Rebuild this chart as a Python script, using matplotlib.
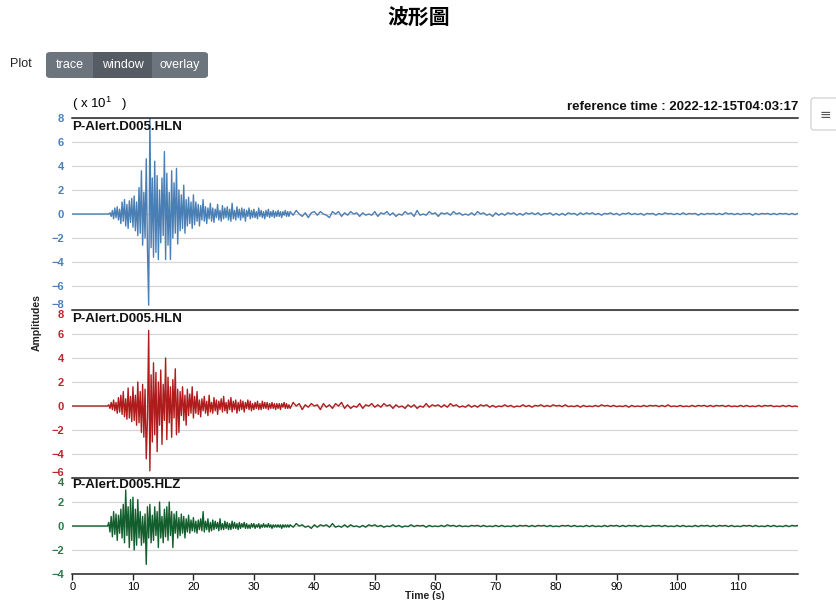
import numpy as np
import matplotlib
matplotlib.use("Agg")
import matplotlib.pyplot as plt
from matplotlib.patches import FancyBboxPatch, Rectangle

plt.rcParams['font.family'] = ['Liberation Sans', 'DejaVu Sans']
plt.rcParams['mathtext.default'] = 'regular'
plt.rcParams['axes.unicode_minus'] = True

# Waveform data (units of 10^1)
# active part sampled every 0.2 s from 6 s, coda every 0.5 s from 36 s
dt_active = 0.2
t_active0 = 6.0
dt_tail = 0.5
t_tail0 = 36.0

stations = ["P-Alert.D005.HLN", "P-Alert.D005.HLN", "P-Alert.D005.HLZ"]
colors = ["#4a7fb5", "#b01c1c", "#125e2c"]
tick_colors = ["#4a80b8", "#b8282c", "#2b7a4b"]
ylims = [(-8, 8), (-6, 8), (-4, 4)]

hln1_active = [
    0, 0.1, -0.2, 0.3, -0.4, 0.5, -0.3, 0.6, -0.5, 0.4,
    -0.8, 1.0, -0.6, 1.2, -1.0, 0.8, -1.2, 1.1, -0.7, 1.3,
    -1.1, 1.5, -1.4, 1.0, -1.8, 2.2, -1.6, 3.6, -2.6, 1.8,
    -2.0, 4.6, -3.0, -7.6, 8.0, -2.8, 3.0, -3.6, 4.4, -3.2,
    3.2, -3.8, 2.0, -2.4, 3.0, -1.8, 5.2, -3.8, 3.4, -2.6,
    1.8, -3.8, 3.6, -2.0, 2.6, -1.6, 3.8, -2.5, 2.0, -1.4,
    1.6, -1.2, 2.4, -1.6, 1.2, -1.0, 1.4, -0.8, 1.0, -1.2,
    1.6, -0.9, 1.0, -0.6, 0.8, -1.0, 0.7, -0.5, 1.2, -0.6,
    0.6, -0.8, 0.5, -0.4, 0.9, -0.6, 0.5, -0.7, 0.4, -0.3,
    0.8, -0.5, 0.3, -0.6, 0.7, -0.4, 0.5, -0.3, 0.6, -0.5,
    0.4, -0.6, 0.9, -0.4, 0.3, -0.5, 0.6, -0.3, 0.4, -0.5,
    0.5, -0.3, 0.4, -0.6, 0.3, -0.2, 0.5, -0.4, 0.3, -0.3,
    0.4, -0.3, 0.2, -0.4, 0.5, -0.2, 0.3, -0.3, 0.2, -0.4,
    0.3, -0.2, 0.4, -0.3, 0.2, -0.2, 0.3, -0.3, 0.2, -0.2,
    0.3, -0.2, 0.2, -0.3, 0.2, -0.1, 0.3, -0.2, 0.2, -0.2,
]
hln1_tail = [
    0.2, -0.1, 0.3, 0.0, -0.2, 0.1, -0.3, 0.1, 0.2, -0.1,
    0.2, 0.0, -0.1, -0.3, 0.2, 0.0, 0.2, -0.2, 0.1, -0.1,
    0.2, 0.0, 0.1, -0.2, 0.1, -0.1, 0.0, -0.1, 0.2, -0.2,
    0.1, 0.0, 0.2, -0.1, 0.1, -0.2, 0.0, -0.1, 0.2, 0.0,
    0.1, -0.2, 0.3, -0.1, 0.0, -0.1, 0.2, 0.0, 0.1, -0.2,
    0.1, 0.0, 0.1, -0.1, 0.2, 0.0, 0.1, -0.1, 0.0, -0.1,
    0.1, -0.1, 0.2, 0.0, 0.1, -0.1, 0.0, -0.2, 0.1, -0.1,
    0.05, -0.1, 0.1, 0.0, 0.1, -0.1, 0.05, -0.1, 0.1, 0.0,
    0.1, -0.05, 0.1, -0.1, 0.05, 0.0, 0.1, -0.1, 0.05, -0.1,
    0.05, -0.1, 0.1, 0.0, 0.05, -0.1, 0.1, -0.05, 0.1, 0.0,
    0.1, -0.05, 0.05, -0.1, 0.05, 0.0, 0.1, -0.05, 0.05, -0.1,
    0.05, 0.0, 0.1, -0.05, 0.05, -0.05, 0.05, -0.1, 0.05, 0.0,
    0.05, -0.1, 0.05, -0.05, 0.1, 0.0, 0.05, -0.05, 0.05, -0.05,
    0.1, -0.05, 0.05, 0.0, 0.05, -0.1, 0.05, -0.05, 0.05, 0.0,
    0.05, -0.05, 0.05, -0.05, 0.1, 0.0, 0.05, -0.05, 0.05, -0.05,
    0.05, 0.0, 0.05, -0.1, 0.05, -0.05, 0.05, 0.0, 0.05, -0.05,
    0.05, -0.05, 0.05, 0.0, 0.05, -0.05, 0.05, -0.05, 0.05, 0.0,
]

hln2_active = [
    0.1, -0.2, 0.3, -0.3, 0.5, -0.4, 0.3, -0.6, 0.7, -0.5,
    0.9, -0.7, 1.2, -0.9, 0.6, -1.1, 1.5, -1.0, 0.8, -1.3,
    1.6, -1.2, 0.9, -1.6, 2.0, -1.4, 1.2, -2.2, 1.8, -2.6,
    1.4, -4.4, -1.0, 6.3, -5.4, 2.6, -3.0, 3.6, -2.4, 2.8,
    -3.8, 2.0, -1.6, 3.0, -3.2, 1.8, -1.2, 4.0, -2.8, 2.4,
    -1.4, 1.6, -2.6, 2.2, -1.0, 3.1, -2.4, 1.4, -2.2, 1.2,
    -0.8, 1.6, -1.2, 0.9, -1.6, 1.4, -0.8, 1.0, -0.6, 1.6,
    -1.0, 0.8, -0.6, 1.2, -0.7, 0.5, -0.9, 0.6, -0.4, 0.8,
    -0.6, 0.4, -0.8, 0.9, -0.5, 0.3, -0.6, 0.7, -0.4, 0.5,
    -0.7, 0.4, -0.3, 0.6, -0.5, 0.8, -0.4, 0.3, -0.6, 0.5,
    -0.3, 0.7, -0.5, 0.4, -0.3, 0.5, -0.6, 0.3, -0.4, 0.5,
    -0.3, 0.4, -0.5, 0.3, -0.2, 0.5, -0.3, 0.4, -0.4, 0.2,
    -0.3, 0.3, -0.2, 0.4, -0.3, 0.2, -0.3, 0.4, -0.2, 0.3,
    -0.2, 0.3, -0.3, 0.2, -0.2, 0.3, -0.2, 0.2, -0.3, 0.2,
    -0.2, 0.2, -0.3, 0.2, -0.1, 0.3, -0.2, 0.2, -0.2, 0.1,
]
hln2_tail = [
    -0.2, 0.3, 0.0, 0.2, -0.3, 0.1, -0.1, 0.2, 0.0, 0.1,
    -0.3, 0.2, -0.1, 0.1, -0.2, 0.2, 0.0, 0.3, -0.2, 0.1,
    -0.2, 0.0, -0.1, 0.2, -0.2, 0.1, 0.0, 0.2, -0.1, 0.1,
    -0.1, 0.2, 0.0, 0.1, -0.2, 0.1, -0.1, 0.0, -0.2, 0.1,
    -0.1, 0.1, -0.2, 0.0, -0.1, 0.2, -0.1, 0.1, 0.0, 0.1,
    -0.1, 0.1, -0.1, 0.2, 0.0, 0.1, -0.1, 0.0, -0.1, 0.1,
    -0.1, 0.05, -0.1, 0.1, 0.0, 0.1, -0.1, 0.05, -0.1, 0.0,
    -0.05, 0.1, -0.05, 0.05, -0.1, 0.0, -0.05, 0.1, -0.05, 0.05,
    -0.1, 0.05, 0.0, 0.1, -0.05, 0.05, -0.05, 0.1, 0.0, 0.05,
    -0.05, 0.1, -0.05, 0.0, -0.05, 0.05, -0.1, 0.05, -0.05, 0.0,
    -0.05, 0.05, -0.05, 0.1, 0.0, 0.05, -0.05, 0.05, -0.05, 0.0,
    -0.05, 0.05, -0.1, 0.05, -0.05, 0.0, -0.05, 0.05, -0.05, 0.05,
    0.0, 0.05, -0.05, 0.05, -0.05, 0.1, -0.05, 0.0, -0.05, 0.05,
    -0.05, 0.0, -0.05, 0.05, -0.05, 0.05, 0.0, 0.05, -0.05, 0.05,
    -0.05, 0.05, 0.0, 0.05, -0.05, 0.05, -0.05, 0.0, -0.05, 0.05,
    -0.05, 0.05, -0.05, 0.0, -0.05, 0.05, -0.05, 0.05, 0.0, 0.05,
    -0.05, 0.0, -0.05, 0.05, -0.05, 0.05, -0.05, 0.0, -0.05, 0.05,
]

hlz_active = [
    0.3, -0.5, 0.8, -0.9, 1.2, -0.7, 1.0, -1.2, 0.9, -0.6,
    1.4, -1.0, 1.8, -1.4, 3.0, -0.8, 1.6, -1.8, 2.2, -1.2,
    2.4, -2.0, 1.4, -1.6, 2.2, -1.0, 1.2, -1.6, 0.8, -1.4,
    1.0, -3.2, 1.6, -1.0, 1.8, -1.4, 0.9, -1.2, 1.6, -0.8,
    1.2, -1.8, 2.0, -1.0, 0.8, -1.4, 1.4, -0.9, 1.6, -1.2,
    2.0, -0.8, 1.2, -1.8, 1.0, -0.6, 1.2, -1.0, 0.7, -0.8,
    1.0, -0.6, 0.8, -1.0, 0.6, -0.5, 0.9, -0.6, 0.5, -0.4,
    0.7, -0.5, 0.4, -0.6, 0.5, -0.3, 0.6, -0.4, 1.2, -0.5,
    0.4, -0.3, 0.6, -0.5, 0.3, -0.4, 0.5, -0.3, 0.4, -0.2,
    0.3, -0.4, 0.6, -0.3, 0.2, -0.3, 0.4, -0.2, 0.3, -0.3,
    0.2, -0.3, 0.4, -0.2, 0.3, -0.2, 0.2, -0.3, 0.3, -0.2,
    0.2, -0.1, 0.3, -0.2, 0.2, -0.2, 0.1, -0.2, 0.2, -0.1,
    0.2, -0.2, 0.1, -0.1, 0.2, -0.2, 0.1, -0.1, 0.2, -0.1,
    0.1, -0.1, 0.2, -0.1, 0.1, -0.2, 0.1, -0.1, 0.1, -0.1,
    0.1, -0.1, 0.1, -0.2, 0.1, -0.1, 0.1, -0.1, 0.1, -0.1,
]
hlz_tail = [
    0.1, -0.1, 0.2, 0.0, 0.1, -0.1, 0.0, -0.2, 0.1, -0.1,
    0.1, 0.0, 0.1, -0.1, 0.2, -0.1, 0.0, -0.1, 0.1, -0.1,
    0.1, -0.05, 0.0, -0.1, 0.05, -0.1, 0.1, 0.0, 0.1, -0.05,
    0.05, -0.1, 0.0, -0.05, 0.1, -0.05, 0.05, -0.1, 0.0, -0.05,
    0.1, -0.05, 0.05, 0.0, 0.05, -0.1, 0.05, -0.05, 0.0, -0.05,
    0.05, -0.05, 0.1, 0.0, 0.05, -0.05, 0.05, -0.05, 0.0, -0.05,
    0.05, 0.0, 0.05, -0.05, 0.05, -0.05, 0.0, -0.05, 0.05, -0.05,
    0.05, -0.05, 0.0, -0.05, 0.05, -0.05, 0.05, 0.0, 0.05, -0.05,
    0.05, -0.05, 0.05, 0.0, 0.05, -0.05, 0.05, -0.05, 0.0, -0.05,
    0.05, 0.0, 0.05, -0.05, 0.05, -0.05, 0.0, -0.05, 0.05, -0.05,
    0.05, -0.05, 0.0, -0.05, 0.05, -0.05, 0.05, 0.0, 0.05, -0.05,
    0.05, -0.05, 0.05, 0.0, 0.05, -0.05, 0.05, -0.05, 0.0, -0.05,
    0.05, 0.0, 0.05, -0.05, 0.05, -0.05, 0.0, -0.05, 0.05, -0.05,
    0.05, -0.05, 0.0, -0.05, 0.05, -0.05, 0.05, 0.0, 0.05, -0.05,
    0.05, -0.05, 0.05, 0.0, 0.05, -0.05, 0.05, -0.05, 0.0, -0.05,
    0.05, 0.0, 0.05, -0.05, 0.05, -0.05, 0.0, -0.05, 0.05, -0.05,
    0.05, -0.05, 0.0, -0.05, 0.05, -0.05, 0.05, 0.0, 0.05, -0.05,
]

traces = [(hln1_active, hln1_tail), (hln2_active, hln2_tail), (hlz_active, hlz_tail)]


def build(active, tail):
    ta = t_active0 + dt_active * np.arange(len(active))
    tt = t_tail0 + dt_tail * np.arange(len(tail))
    t = np.concatenate([[0.0, t_active0 - dt_active], ta, tt])
    v = np.concatenate([[0.0, 0.0], active, tail])
    return t, v


W, H = 837, 600
fig = plt.figure(figsize=(W / 100, H / 100), dpi=100)

# panel geometry in pixels (top, bottom)
left_px, right_px = 72.5, 798
panels_px = [(118, 310), (310, 478), (478, 574)]

axes = []
for i, (top, bot) in enumerate(panels_px):
    ax = fig.add_axes([left_px / W, 1 - bot / H, (right_px - left_px) / W, (bot - top) / H])
    t, v = build(*traces[i])
    ax.plot(t, v, color=colors[i], lw=1.0)
    lo, hi = ylims[i]
    ax.set_ylim(lo, hi)
    ax.set_xlim(0, 120)
    ax.set_yticks(np.arange(lo, hi + 1, 2))
    ax.yaxis.grid(True, color="#d6d6d6", lw=0.9)
    ax.set_axisbelow(True)
    ax.tick_params(axis="y", length=0, pad=6, labelsize=8, labelcolor=tick_colors[i])
    labels = ax.get_yticklabels()
    for lab in labels:
        lab.set_fontweight("bold")
    # labels at shared panel edges are nudged apart
    if i > 0:
        labels[-1].set_verticalalignment("top")
    if i < 2:
        labels[0].set_verticalalignment("bottom")
    for s in ["left", "right", "bottom"]:
        ax.spines[s].set_visible(False)
    ax.spines["top"].set_color("#222222")
    ax.spines["top"].set_linewidth(1.1)
    ax.text(0.0, 0.985, stations[i], transform=ax.transAxes, ha="left", va="top",
            fontsize=9.5, fontweight="bold", color="#111111")
    ax.set_facecolor("none")
    if i < 2:
        ax.set_xticks([])
    else:
        ax.set_xticks(np.arange(0, 111, 10))
        ax.spines["bottom"].set_visible(True)
        ax.spines["bottom"].set_color("#222222")
        ax.spines["bottom"].set_linewidth(1.1)
        ax.tick_params(axis="x", length=4, width=1, color="#222222", labelsize=8, pad=2)
    axes.append(ax)

# header texts
fig.text(419 / W, 1 - 18 / H, "波形圖", ha="center", va="center", fontsize=15,
         fontweight="bold", family=["Noto Sans CJK TC", "DejaVu Sans"])
fig.text(10 / W, 1 - 64 / H, "Plot", ha="left", va="center", fontsize=9, color="#222222")
fig.text(72 / W, 1 - 104 / H, "( x 10$^1$   )", ha="left", va="center", fontsize=9.5)
fig.text(798 / W, 1 - 107 / H, "reference time : 2022-12-15T04:03:17", ha="right",
         va="center", fontsize=9.5, fontweight="bold", color="#111111")
fig.text(37 / W, 1 - 323 / H, "Amplitudes", rotation=90, ha="center", va="center",
         fontsize=7.5, fontweight="bold", color="#222222")
fig.text(425 / W, 1 - 596 / H, "Time (s)", ha="center", va="center", fontsize=7.5,
         fontweight="bold", color="#222222")

# button group
buttons = [("trace", 46, 93, "#6c757d"), ("window", 93, 152, "#555c63"),
           ("overlay", 152, 208, "#6c757d")]
grp = FancyBboxPatch((46 / W, 1 - 78 / H), (208 - 46) / W, 26 / H,
                     boxstyle="round,pad=0,rounding_size=0.005",
                     transform=fig.transFigure, facecolor="#6c757d", edgecolor="none")
fig.patches.append(grp)
for label, x0, x1, col in buttons:
    if col != "#6c757d":
        fig.patches.append(Rectangle((x0 / W, 1 - 78 / H), (x1 - x0) / W, 26 / H,
                                     transform=fig.transFigure, facecolor=col, edgecolor="none"))
    fig.text((x0 + x1) / 2 / W, 1 - 65 / H, label, ha="center", va="center",
             fontsize=9, color="white")

# menu icon on the right
fig.patches.append(FancyBboxPatch((811 / W, 1 - 130 / H), 40 / W, 32 / H,
                                  boxstyle="round,pad=0,rounding_size=0.004",
                                  transform=fig.transFigure, facecolor="white",
                                  edgecolor="#cccccc", lw=0.8))
fig.text(825 / W, 1 - 115 / H, "≡", ha="center", va="center", fontsize=10, color="#555555",
         family="DejaVu Sans")

fig.savefig("out.png", dpi=100)
